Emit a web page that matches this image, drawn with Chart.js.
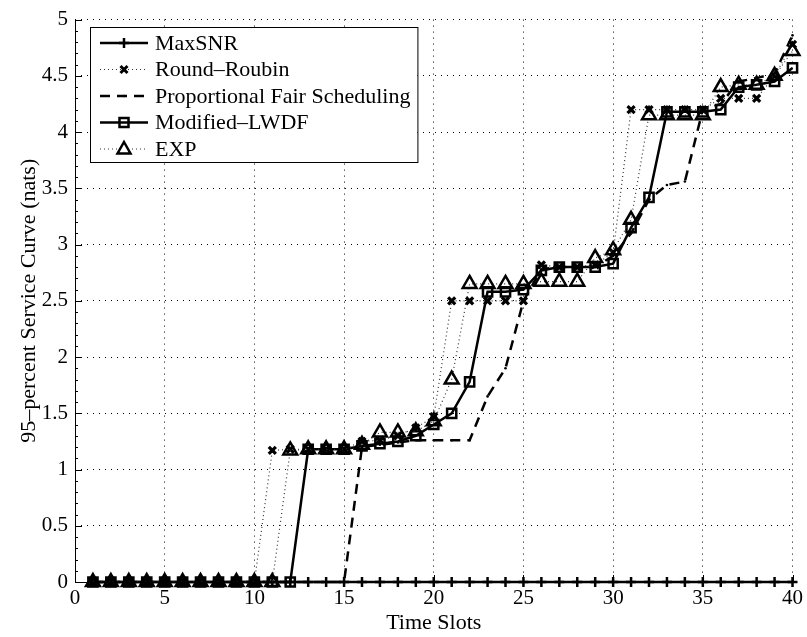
<!DOCTYPE html>
<html>
<head>
<meta charset="utf-8">
<script src="https://cdn.jsdelivr.net/npm/chart.js@4/dist/chart.umd.min.js"></script>
<style>
  html, body { margin: 0; padding: 0; background: #fff; }
  #wrap { width: 807px; height: 637px; }
</style>
</head>
<body>
<div id="wrap"><canvas id="chart"></canvas></div>
<script>
const slots = [1, 2, 3, 4, 5, 6, 7, 8, 9, 10, 11, 12, 13, 14, 15, 16, 17, 18, 19, 20,
  21, 22, 23, 24, 25, 26, 27, 28, 29, 30, 31, 32, 33, 34, 35, 36, 37, 38, 39, 40];

const maxSNR = [0, 0, 0, 0, 0, 0, 0, 0, 0, 0, 0, 0, 0, 0, 0, 0, 0, 0, 0, 0,
  0, 0, 0, 0, 0, 0, 0, 0, 0, 0, 0, 0, 0, 0, 0, 0, 0, 0, 0, 0];

const roundRobin = [0, 0, 0, 0, 0, 0, 0, 0, 0, 0, 1.17, 1.18, 1.18, 1.18, 1.18, 1.25, 1.26, 1.3, 1.37, 1.47,
  2.5, 2.5, 2.5, 2.5, 2.5, 2.82, 2.8, 2.8, 2.82, 2.93, 4.2, 4.2, 4.2, 4.2, 4.2, 4.3, 4.3, 4.3, 4.5, 4.78];

const propFair = [0, 0, 0, 0, 0, 0, 0, 0, 0, 0, 0, 0, 0, 0, 0, 1.2, 1.22, 1.24, 1.26, 1.26,
  1.26, 1.26, 1.65, 1.9, 2.5, 2.78, 2.8, 2.8, 2.8, 2.9, 3.1, 3.4, 3.53, 3.56, 4.2, 4.25, 4.45, 4.48, 4.52, 4.86];

const modLWDF = [0, 0, 0, 0, 0, 0, 0, 0, 0, 0, 0, 0, 1.18, 1.18, 1.18, 1.21, 1.23, 1.25, 1.3, 1.4,
  1.5, 1.78, 2.58, 2.58, 2.6, 2.77, 2.8, 2.8, 2.8, 2.83, 3.15, 3.42, 4.18, 4.18, 4.18, 4.2, 4.4, 4.42, 4.45, 4.57];

const expRule = [0, 0, 0, 0, 0, 0, 0, 0, 0, 0, 0, 1.17, 1.18, 1.18, 1.18, 1.22, 1.33, 1.33, 1.34, 1.43,
  1.8, 2.65, 2.65, 2.65, 2.65, 2.67, 2.67, 2.67, 2.88, 2.95, 3.22, 4.15, 4.15, 4.15, 4.15, 4.4, 4.42, 4.42, 4.5, 4.72];

const xTicks = [0, 5, 10, 15, 20, 25, 30, 35, 40];
const yTicks = [0, 0.5, 1, 1.5, 2, 2.5, 3, 3.5, 4, 4.5, 5];

const SERIF = "'Liberation Serif', 'DejaVu Serif', serif";
const CLEAR = "rgba(0,0,0,0)";
const pts = (ys) => slots.map((x, i) => ({ x, y: ys[i] }));

// legend rows: label, line dash, line width, marker
const legendRows = [
  { label: "MaxSNR", dash: [], width: 2.5, marker: "plus" },
  { label: "Round\u2013Roubin", dash: [1, 3], width: 1.2, marker: "x" },
  { label: "Proportional Fair Scheduling", dash: [10, 7], width: 2.5, marker: "dot" },
  { label: "Modified\u2013LWDF", dash: [], width: 2.5, marker: "square" },
  { label: "EXP", dash: [1, 3], width: 1.2, marker: "triangle" },
];

function drawMarker(ctx, kind, x, y) {
  ctx.save();
  ctx.setLineDash([]);
  ctx.strokeStyle = "#000";
  ctx.lineWidth = 2.5;
  ctx.beginPath();
  if (kind === "plus") {
    ctx.moveTo(x - 5, y); ctx.lineTo(x + 5, y);
    ctx.moveTo(x, y - 5); ctx.lineTo(x, y + 5);
    ctx.stroke();
  } else if (kind === "x") {
    ctx.lineWidth = 3;
    ctx.moveTo(x - 3.5, y - 3.5); ctx.lineTo(x + 3.5, y + 3.5);
    ctx.moveTo(x + 3.5, y - 3.5); ctx.lineTo(x - 3.5, y + 3.5);
    ctx.stroke();
  } else if (kind === "dot") {
    ctx.fillStyle = "#000";
    ctx.arc(x, y, 1.3, 0, Math.PI * 2);
    ctx.fill();
  } else if (kind === "square") {
    ctx.rect(x - 4.5, y - 4.5, 9, 9);
    ctx.stroke();
  } else if (kind === "triangle") {
    ctx.fillStyle = "#fff";
    ctx.moveTo(x, y - 7); ctx.lineTo(x + 6.5, y + 4.5); ctx.lineTo(x - 6.5, y + 4.5);
    ctx.closePath();
    ctx.fill(); ctx.stroke();
  }
  ctx.restore();
}

const frame = {
  id: "frame",
  afterDatasetsDraw(chart) {
    const { ctx, chartArea: a, scales: { x, y } } = chart;
    ctx.save();
    ctx.strokeStyle = "#000";
    ctx.lineWidth = 1;
    ctx.beginPath();
    // left/bottom solid axes
    ctx.moveTo(a.left + 0.5, a.top); ctx.lineTo(a.left + 0.5, a.bottom + 0.5);
    ctx.lineTo(a.right, a.bottom + 0.5);
    // inward ticks on the left axis
    for (let v = 0; v <= 50; v++) {
      const py = Math.round(y.getPixelForValue(v / 10)) + 0.5;
      const len = v % 5 === 0 ? 7 : 3;
      ctx.moveTo(a.left, py); ctx.lineTo(a.left + len, py);
    }
    // inward ticks on the bottom axis
    for (const t of xTicks) {
      const px = Math.round(x.getPixelForValue(t)) + 0.5;
      ctx.moveTo(px, a.bottom); ctx.lineTo(px, a.bottom - 7);
    }
    ctx.stroke();
    ctx.restore();
  },
  afterDraw(chart) {
    const { ctx } = chart;
    ctx.save();
    ctx.font = "22px " + SERIF;
    let w = 0;
    for (const r of legendRows) w = Math.max(w, ctx.measureText(r.label).width);
    const left = 90, top = 27, textX = 155;
    const right = textX + w + 7, bottom = 162;
    ctx.fillStyle = "#fff";
    ctx.fillRect(left, top, right - left, bottom - top);
    ctx.strokeStyle = "#000";
    ctx.lineWidth = 1;
    ctx.strokeRect(left + 0.5, top + 0.5, right - left, bottom - top);
    legendRows.forEach((r, i) => {
      const cy = 43 + i * 26.5;
      ctx.save();
      ctx.strokeStyle = r.dash.length && r.width < 2 ? "#333" : "#000";
      ctx.lineWidth = r.width;
      ctx.setLineDash(r.dash);
      ctx.beginPath();
      ctx.moveTo(100, cy); ctx.lineTo(148, cy);
      ctx.stroke();
      ctx.restore();
      drawMarker(ctx, r.marker, 124, cy);
      ctx.fillStyle = "#000";
      ctx.textBaseline = "middle";
      ctx.textAlign = "left";
      ctx.fillText(r.label, textX, cy + 1);
    });
    ctx.restore();
  }
};

const common = { borderColor: "#000", pointBorderColor: "#000", clip: false, tension: 0 };

new Chart(document.getElementById("chart"), {
  type: "line",
  data: {
    datasets: [
      { ...common, label: "MaxSNR", data: pts(maxSNR), order: 5,
        borderWidth: 2.5, pointStyle: "cross", pointRadius: 5, pointBorderWidth: 2.5 },
      { ...common, label: "Round\u2013Roubin", data: pts(roundRobin), order: 4,
        borderColor: "#333", borderWidth: 1.2, borderDash: [1, 3],
        pointStyle: "crossRot", pointRadius: 5, pointBorderWidth: 3.2 },
      { ...common, label: "Proportional Fair Scheduling", data: pts(propFair), order: 3,
        borderWidth: 2.5, borderDash: [10, 7],
        pointStyle: "circle", pointRadius: 1.3, pointBackgroundColor: "#000", pointBorderWidth: 0 },
      { ...common, label: "Modified\u2013LWDF", data: pts(modLWDF), order: 2,
        borderWidth: 2.5, pointStyle: "rect", pointRadius: 6.5, pointBorderWidth: 2.5,
        pointBackgroundColor: CLEAR },
      { ...common, label: "EXP", data: pts(expRule), order: 1,
        borderColor: "#333", borderWidth: 1.2, borderDash: [1, 3],
        pointStyle: "triangle", pointRadius: 8, pointBorderWidth: 2.5, pointBackgroundColor: CLEAR },
    ],
  },
  options: {
    animation: false,
    responsive: true,
    maintainAspectRatio: false,
    layout: { padding: { top: 17, right: 12, left: 0, bottom: 0 } },
    plugins: { legend: { display: false }, tooltip: { enabled: false } },
    scales: {
      x: {
        type: "linear",
        min: 0, max: 40,
        afterBuildTicks: (s) => { s.ticks = xTicks.map(v => ({ value: v })); },
        afterFit: (s) => { s.height = 55; },
        ticks: { color: "#000", padding: 4, font: { family: SERIF, size: 21 } },
        grid: { color: "#000", lineWidth: 1, drawTicks: false },
        border: { display: false, dash: [1, 5] },
        title: { display: true, text: "Time Slots", color: "#000", padding: { top: 0, bottom: 1 },
          font: { family: SERIF, size: 22 } },
      },
      y: {
        type: "linear",
        min: 0, max: 5,
        afterBuildTicks: (s) => { s.ticks = yTicks.map(v => ({ value: v })); },
        afterFit: (s) => { s.width = 75; },
        ticks: { color: "#000", padding: 7, font: { family: SERIF, size: 21 },
          callback: (v) => String(v) },
        grid: { color: "#000", lineWidth: 1, drawTicks: false },
        border: { display: false, dash: [1, 5] },
        title: { display: true, text: "95\u2013percent Service Curve (nats)", color: "#000",
          padding: { top: 16, bottom: 0 }, font: { family: SERIF, size: 22 } },
      },
    },
  },
  plugins: [frame],
});
</script>
</body>
</html>
